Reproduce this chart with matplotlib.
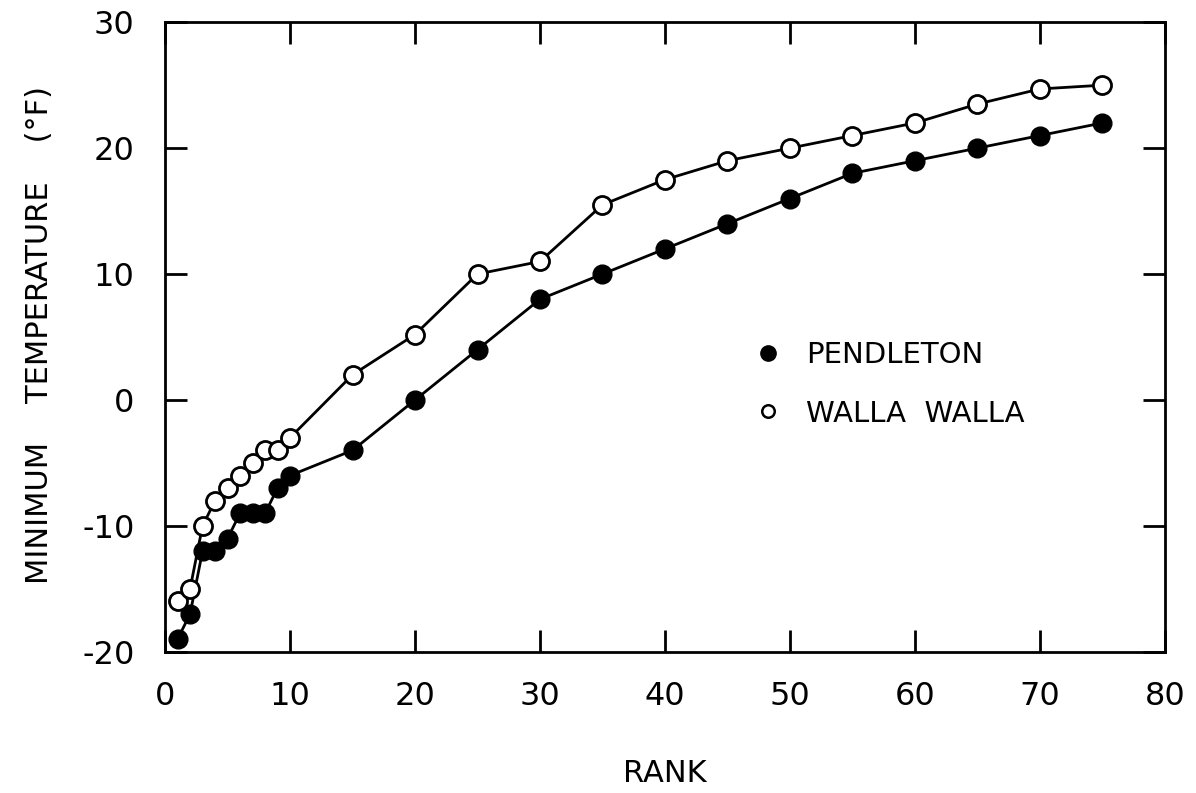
import matplotlib.pyplot as plt
from matplotlib.lines import Line2D

plt.rcParams['font.family'] = ['DejaVu Sans']
plt.rcParams['axes.unicode_minus'] = False

# annual minimum temperatures ranked lowest to highest
rank = [1, 2, 3, 4, 5, 6, 7, 8, 9, 10, 15, 20, 25, 30, 35, 40, 45, 50, 55, 60, 65, 70, 75]
pendleton = [-19, -17, -12, -12, -11, -9, -9, -9, -7, -6, -4, 0, 4, 8, 10, 12, 14, 16, 18, 19, 20, 21, 22]
walla_walla = [-16, -15, -10, -8, -7, -6, -5, -4, -4, -3, 2, 5.2, 10, 11, 15.5, 17.5, 19, 20, 21, 22, 23.5, 24.7, 25]

x_ticks = [0, 10, 20, 30, 40, 50, 60, 70, 80]
y_ticks = [-20, -10, 0, 10, 20, 30]

fig = plt.figure(figsize=(11.96, 7.93), dpi=100)
ax = fig.add_axes([0.138, 0.178, 0.836, 0.794])

ax.plot(rank, pendleton, color='black', lw=2, marker='o', ms=13.5,
        mfc='black', mec='black', zorder=3)
ax.plot(rank, walla_walla, color='black', lw=2, marker='o', ms=13,
        mfc='white', mec='black', mew=2, zorder=3)

ax.set_xlim(0, 80)
ax.set_ylim(-20, 30)
ax.set_xticks(x_ticks)
ax.set_yticks(y_ticks)
ax.tick_params(direction='in', length=16, width=2, top=True, right=True,
               labelsize=23)
ax.tick_params(axis='x', pad=21)
ax.tick_params(axis='y', pad=22)
for s in ax.spines.values():
    s.set_linewidth(2)

fig.text(665 / 1196, 1 - 774 / 793, 'RANK', fontsize=22, ha='center', va='center')
fig.text(40 / 1196, 1 - 335 / 793, 'MINIMUM    TEMPERATURE    (°F)', fontsize=22,
         rotation=90, ha='center', va='center')

handles = [
    Line2D([], [], ls='none', marker='o', ms=11, mfc='black', mec='black'),
    Line2D([], [], ls='none', marker='o', ms=9, mfc='white', mec='black', mew=1.8),
]
ax.legend(handles, ['PENDLETON', 'WALLA  WALLA'], frameon=False, fontsize=21,
          loc='center left', bbox_to_anchor=(0.562, 0.425), handlelength=1.0,
          handletextpad=0.8, labelspacing=1.05)

fig.savefig('out.png', dpi=100)
